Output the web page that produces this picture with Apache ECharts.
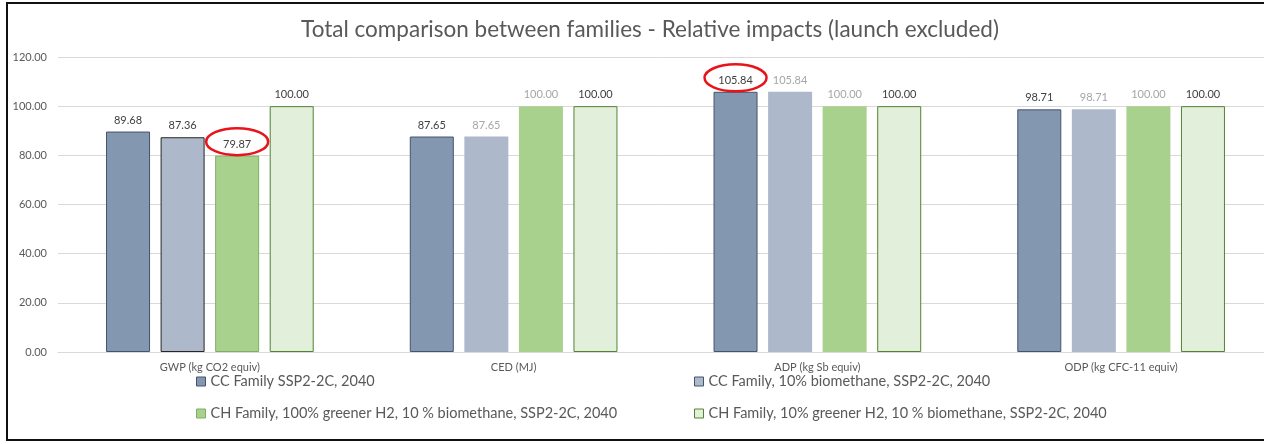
<!DOCTYPE html>
<html>
<head>
<meta charset="utf-8">
<script src="https://cdn.jsdelivr.net/npm/echarts@6/dist/echarts.min.js"></script>
<style>
  html, body { margin: 0; padding: 0; background: #fff; overflow: hidden; }
  #wrap { position: relative; width: 1264px; height: 444px; overflow: hidden; }
  #chart { width: 1264px; height: 444px; }
  /* chart frame: open on the right side */
  #frame {
    position: absolute; left: 6px; top: 2px; width: 1270px; height: 435px;
    border: 2px solid #111; border-right: none; pointer-events: none;
  }
</style>
</head>
<body>
<div id="wrap">
  <div id="chart"></div>
  <div id="frame"></div>
</div>
<script>
// Impact categories on the x axis
const categories = ['GWP (kg CO2 equiv)', 'CED (MJ)', 'ADP (kg Sb equiv)', 'ODP (kg CFC-11 equiv)'];

// Relative impacts per family (launch excluded)
const seriesNames = [
  'CC Family SSP2-2C, 2040',
  'CC Family, 10% biomethane, SSP2-2C, 2040',
  'CH Family, 100% greener H2, 10 % biomethane, SSP2-2C, 2040',
  'CH Family, 10% greener H2, 10 % biomethane, SSP2-2C, 2040'
];
const ccBase       = [89.68, 87.65, 105.84, 98.71];
const ccBiomethane = [87.36, 87.65, 105.84, 98.71];
const chGreener100 = [79.87, 100.00, 100.00, 100.00];
const chGreener10  = [100.00, 100.00, 100.00, 100.00];

// Value axis ticks
const yTicks = [0, 20, 40, 60, 80, 100, 120];

// Values that are circled in red: [seriesIndex, categoryIndex]
const highlighted = [[2, 0], [0, 2]];

const FONT = 'Lato';
const DARK = '#404040';
const GREY = '#a6a6a6';

const fills   = ['#8497b0', '#adb9ca', '#a9d18e', '#e2efda'];
const borders = ['#44546a', '#44546a', '#7fae62', '#548235'];

// per-item overrides: label colour and outline
function itemsFor(values, sIdx) {
  return values.map((v, i) => {
    const item = { value: v };
    if (sIdx === 1) {
      item.label = { color: i === 0 ? DARK : GREY };
      if (i === 0) item.itemStyle = { borderColor: '#262626', borderWidth: 1 };
    }
    if (sIdx === 2) {
      item.label = { color: i === 0 ? DARK : GREY };
      if (i === 0) item.itemStyle = { borderColor: '#7fae62', borderWidth: 1 };
    }
    return item;
  });
}

const allValues = [ccBase, ccBiomethane, chGreener100, chGreener10];

const series = allValues.map((vals, s) => ({
  name: seriesNames[s],
  type: 'bar',
  data: itemsFor(vals, s),
  barWidth: 44,
  barGap: '24%',
  itemStyle: {
    color: fills[s],
    borderColor: borders[s],
    borderWidth: (s === 0 || s === 3) ? 1 : 0
  },
  label: {
    show: true,
    position: 'top',
    distance: 6,
    fontFamily: FONT,
    fontSize: 11,
    color: DARK,
    formatter: p => p.value.toFixed(2)
  },
  emphasis: { disabled: true }
}));

const legendText = { fontFamily: FONT, fontSize: 14.5, color: '#595959' };

// legend swatches: plain squares with a thin outline
const legendData = seriesNames.map((n, s) => ({
  name: n,
  icon: 'rect',
  itemStyle: { color: fills[s], borderColor: borders[s], borderWidth: 1 }
}));

const option = {
  backgroundColor: '#ffffff',
  animation: false,
  title: {
    text: 'Total comparison between families - Relative impacts (launch excluded)',
    left: 645,
    textAlign: 'center',
    top: 13,
    textStyle: { fontFamily: FONT, fontSize: 22.5, fontWeight: 'normal', color: '#595959' }
  },
  // plot area runs past the right edge of the canvas
  grid: { left: 58, top: 57, width: 1215, height: 295, outerBoundsMode: 'none' },
  xAxis: {
    type: 'category',
    data: categories,
    axisTick: { show: false },
    axisLine: { lineStyle: { color: '#d9d9d9', width: 1 } },
    axisLabel: { fontFamily: FONT, fontSize: 11, color: '#595959', margin: 10 }
  },
  yAxis: {
    type: 'value',
    min: yTicks[0],
    max: yTicks[yTicks.length - 1],
    interval: yTicks[1] - yTicks[0],
    axisLine: { show: false },
    axisTick: { show: false },
    splitLine: { lineStyle: { color: '#d9d9d9', width: 1 } },
    axisLabel: { fontFamily: FONT, fontSize: 11, color: '#595959', margin: 11,
                 formatter: v => v.toFixed(2) }
  },
  legend: [
    {
      orient: 'vertical', left: 191, top: 369,
      itemWidth: 9, itemHeight: 9, itemGap: 17,
      data: [legendData[0], legendData[2]],
      textStyle: legendText, selectedMode: false
    },
    {
      orient: 'vertical', left: 689, top: 369,
      itemWidth: 9, itemHeight: 9, itemGap: 17,
      data: [legendData[1], legendData[3]],
      textStyle: legendText, selectedMode: false
    }
  ],
  series: series
};

const chart = echarts.init(document.getElementById('chart'), null, { renderer: 'canvas' });
chart.setOption(option);

// red ellipses around the highlighted value labels, placed from the bar layout
function drawHighlights() {
  const model = chart.getModel();
  const shapes = highlighted.map(([s, i]) => {
    const layout = model.getSeriesByIndex(s).getData().getItemLayout(i);
    const cx = layout.x + layout.width / 2;
    const top = Math.min(layout.y, layout.y + layout.height);
    return {
      type: 'ellipse', silent: true, z: 100,
      shape: { cx: cx, cy: top - 14, rx: 31, ry: 13.5 },
      style: { fill: 'none', stroke: '#e8141b', lineWidth: 2.5 }
    };
  });
  chart.setOption({ graphic: shapes });
}
drawHighlights();
</script>
</body>
</html>
